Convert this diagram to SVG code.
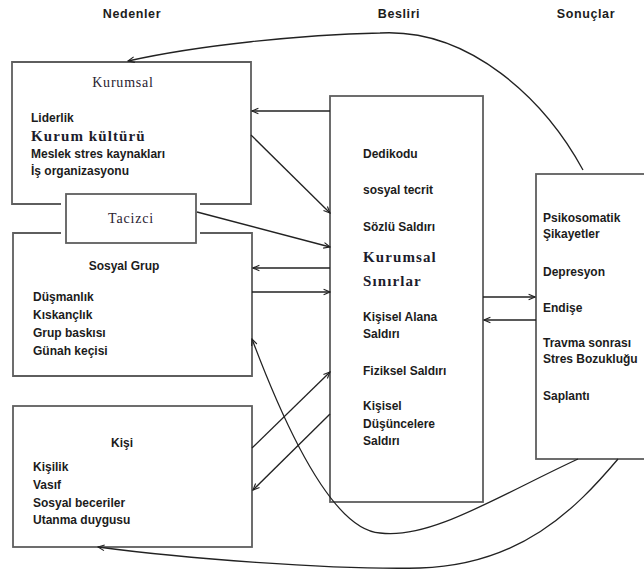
<svg xmlns="http://www.w3.org/2000/svg" width="644" height="572" viewBox="0 0 644 572">
<style>
.box{fill:none;stroke:#5e5e5e;stroke-width:1.8}
.wbox{fill:#fff;stroke:#5e5e5e;stroke-width:1.8}
.t{font-family:"Liberation Sans",Arial,sans-serif;font-size:12px;font-weight:bold;fill:#1c1c1c}
.h{font-family:"Liberation Sans",Arial,sans-serif;font-size:12.5px;font-weight:bold;fill:#1c1c1c;text-anchor:middle;letter-spacing:0.6px}
.c{text-anchor:middle}
.s{font-family:"Liberation Serif","Times New Roman",serif;font-size:14px;fill:#2a2230;letter-spacing:0.8px}
.sb{font-family:"Liberation Serif","Times New Roman",serif;font-size:15px;font-weight:bold;fill:#1c1c2c;letter-spacing:1.1px}
.cn{fill:none;stroke:#222;stroke-width:1.3}
</style>
<defs>
<marker id="ah" viewBox="0 0 10 10" refX="9" refY="5" markerWidth="8" markerHeight="8" markerUnits="userSpaceOnUse" orient="auto">
<path d="M1,1.5 L9,5 L1,8.5" fill="none" stroke="#222" stroke-width="1.4"/>
</marker>
</defs>

<g id="headers">
<text class="h" x="132" y="18">Nedenler</text>
<text class="h" x="399" y="18">Besliri</text>
<text class="h" x="586" y="18">Sonuçlar</text>
</g>

<g id="kurumsal">
<path class="box" d="M61,204 H12 V62 H251 V204 H200"/>
<text class="s c" x="123" y="87">Kurumsal</text>
<text class="t" x="31" y="122">Liderlik</text>
<text class="sb" x="31" y="141">Kurum kültürü</text>
<text class="t" x="31" y="158">Meslek stres kaynakları</text>
<text class="t" x="31" y="175">İş organizasyonu</text>
</g>

<g id="sosyal-grup">
<path class="box" d="M61,233 H13 V376 H252 V233 H200"/>
<text class="t c" x="124" y="270">Sosyal Grup</text>
<text class="t" x="33" y="301">Düşmanlık</text>
<text class="t" x="33" y="319">Kıskançlık</text>
<text class="t" x="33" y="337">Grup baskısı</text>
<text class="t" x="33" y="355">Günah keçisi</text>
</g>

<g id="tacizci">
<rect class="wbox" x="66" y="194" width="130" height="49"/>
<text class="s c" x="131" y="223">Tacizci</text>
</g>

<g id="kisi">
<rect class="box" x="13" y="406" width="239" height="141"/>
<text class="t c" x="122" y="447">Kişi</text>
<text class="t" x="33" y="471">Kişilik</text>
<text class="t" x="33" y="489">Vasıf</text>
<text class="t" x="33" y="507">Sosyal beceriler</text>
<text class="t" x="33" y="524">Utanma  duygusu</text>
</g>

<g id="besliri">
<rect class="box" x="330" y="96" width="153" height="406"/>
<text class="t" x="363" y="158">Dedikodu</text>
<text class="t" x="363" y="194">sosyal tecrit</text>
<text class="t" x="363" y="231">Sözlü Saldırı</text>
<text class="sb" x="363" y="262">Kurumsal</text>
<text class="sb" x="363" y="286">Sınırlar</text>
<text class="t" x="363" y="321">Kişisel Alana</text>
<text class="t" x="363" y="338">Saldırı</text>
<text class="t" x="363" y="375">Fiziksel Saldırı</text>
<text class="t" x="363" y="410">Kişisel</text>
<text class="t" x="363" y="428">Düşüncelere</text>
<text class="t" x="363" y="445">Saldırı</text>
</g>

<g id="sonuclar">
<rect class="box" x="536" y="174" width="120" height="285"/>
<text class="t" x="543" y="222">Psikosomatik</text>
<text class="t" x="543" y="238">Şikayetler</text>
<text class="t" x="543" y="276">Depresyon</text>
<text class="t" x="543" y="312">Endişe</text>
<text class="t" x="543" y="347">Travma sonrası</text>
<text class="t" x="543" y="363">Stres Bozukluğu</text>
<text class="t" x="543" y="400">Saplantı</text>
</g>

<g id="connectors">
<path class="cn" marker-end="url(#ah)" d="M330,111 L252,111"/>
<path class="cn" marker-end="url(#ah)" d="M251,135 L330,213"/>
<path class="cn" marker-end="url(#ah)" d="M197,212 L330,247"/>
<path class="cn" marker-end="url(#ah)" d="M330,268 L253,268"/>
<path class="cn" marker-end="url(#ah)" d="M252,292 L330,292"/>
<path class="cn" marker-end="url(#ah)" d="M252,448 L330,372"/>
<path class="cn" marker-end="url(#ah)" d="M330,414 L253,490"/>
<path class="cn" marker-end="url(#ah)" d="M578,459 C500,495 430,540 380,533 C335,530 290,440 252,339"/>
<path class="cn" marker-end="url(#ah)" d="M618,459 C575,510 520,565 420,568 C330,570 180,558 98,547"/>
<path class="cn" marker-end="url(#ah)" d="M583,170 C545,100 470,28 380,33 C300,35 200,45 128,61"/>
<path class="cn" marker-end="url(#ah)" d="M483,297 L535,297"/>
<path class="cn" marker-end="url(#ah)" d="M536,320 L484,320"/>
</g>
</svg>
